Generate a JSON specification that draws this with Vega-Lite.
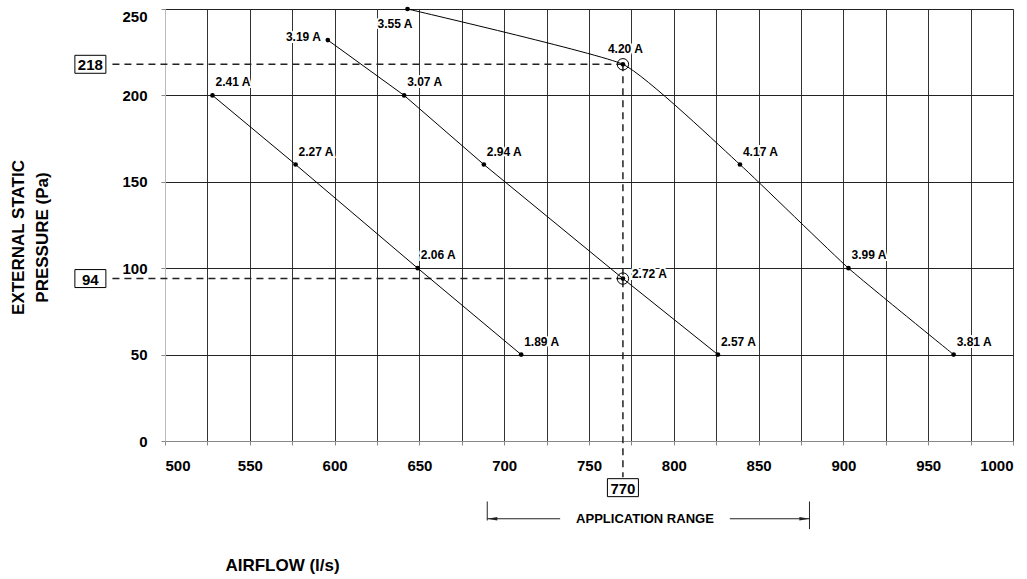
{
  "$schema": "https://vega.github.io/schema/vega-lite/v6.json",
  "width": 848,
  "height": 432,
  "autosize": "none",
  "padding": {"left": 165, "top": 9, "right": 14, "bottom": 138},
  "background": "white",
  "config": {
    "font": "Liberation Sans",
    "view": {"stroke": "#888", "strokeWidth": 1}
  },
  "datasets": {
    "curves": [
      {"series": "A", "x": 528, "y": 200, "label": "2.41 A"},
      {"series": "A", "x": 577, "y": 160, "label": "2.27 A"},
      {"series": "A", "x": 649, "y": 100, "label": "2.06 A"},
      {"series": "A", "x": 710, "y": 50, "label": "1.89 A"},
      {"series": "B", "x": 596, "y": 232, "label": "3.19 A"},
      {"series": "B", "x": 641, "y": 200, "label": "3.07 A"},
      {"series": "B", "x": 688, "y": 160, "label": "2.94 A"},
      {"series": "B", "x": 770, "y": 94, "label": "2.72 A"},
      {"series": "B", "x": 826, "y": 50, "label": "2.57 A"},
      {"series": "C", "x": 643, "y": 250, "label": "3.55 A"},
      {"series": "C", "x": 770, "y": 218, "label": "4.20 A"},
      {"series": "C", "x": 839, "y": 160, "label": "4.17 A"},
      {"series": "C", "x": 903, "y": 100, "label": "3.99 A"},
      {"series": "C", "x": 965, "y": 50, "label": "3.81 A"}
    ],
    "selected": [
      {"x": 770, "y": 218},
      {"x": 770, "y": 94}
    ],
    "refs": [
      {"x": 469, "x2": 770, "y": 218, "y2": 218},
      {"x": 469, "x2": 770, "y": 94, "y2": 94},
      {"x": 770, "x2": 770, "y": 218, "y2": -21}
    ],
    "boxes": [
      {"x": 456, "y": 218, "label": "218"},
      {"x": 456, "y": 94, "label": "94"},
      {"x": 770, "y": -27, "label": "770"}
    ],
    "range": [
      {"x": 690, "x2": 733, "y": -45, "y2": -45},
      {"x": 833, "x2": 880, "y": -45, "y2": -45},
      {"x": 690, "x2": 690, "y": -35, "y2": -46},
      {"x": 880, "x2": 880, "y": -35, "y2": -51}
    ],
    "arrowL": [{"x": 693, "y": -45}],
    "arrowR": [{"x": 877, "y": -45}],
    "rangeText": [{"x": 783, "y": -45, "label": "APPLICATION RANGE"}]
  },
  "encoding": {
    "x": {
      "field": "x",
      "type": "quantitative",
      "scale": {"domain": [500, 1000], "nice": false, "zero": false},
      "axis": {
        "values": [500, 525, 550, 575, 600, 625, 650, 675, 700, 725, 750, 775, 800, 825, 850, 875, 900, 925, 950, 975, 1000],
        "labelExpr": "datum.value % 50 === 0 ? datum.label : ''",
        "format": "d",
        "labelOverlap": false,
        "grid": true,
        "gridColor": "#333",
        "gridOpacity": 1,
        "gridWidth": 1,
        "domainColor": "#888",
        "tickColor": "#888",
        "tickSize": 4,
        "labelFontSize": 15,
        "labelFontWeight": "bold",
        "labelColor": "black",
        "labelPadding": 13,
        "title": "AIRFLOW (l/s)",
        "titleFontSize": 17,
        "titleFontWeight": "bold",
        "titleColor": "black",
        "titleX": 117,
        "titleY": 124,
        "titleAlign": "center",
        "titleBaseline": "middle"
      }
    },
    "y": {
      "field": "y",
      "type": "quantitative",
      "scale": {"domain": [0, 250], "nice": false},
      "axis": {
        "values": [0, 50, 100, 150, 200, 250],
        "format": "d",
        "labelOverlap": false,
        "grid": true,
        "gridColor": "#222",
        "gridOpacity": 1,
        "gridWidth": 1,
        "domainColor": "#bbb",
        "tickColor": "#888",
        "tickSize": 4,
        "labelFontSize": 15,
        "labelFontWeight": "bold",
        "labelColor": "black",
        "labelPadding": 14,
        "labelBaseline": {"condition": {"test": "datum.value == 250", "value": "top"}, "value": "middle"},
        "title": ["EXTERNAL STATIC", "PRESSURE (Pa)"],
        "titleFontSize": 17,
        "titleFontWeight": "bold",
        "titleColor": "black",
        "titleLineHeight": 24,
        "titleAngle": -90,
        "titleX": -147,
        "titleY": 228,
        "titleAlign": "center",
        "titleBaseline": "middle"
      }
    }
  },
  "layer": [
    {
      "data": {"name": "refs"},
      "mark": {"type": "rule", "color": "#222", "strokeWidth": 1.5, "strokeDash": [7, 5]},
      "encoding": {"x2": {"field": "x2"}, "y2": {"field": "y2"}}
    },
    {
      "data": {"name": "range"},
      "mark": {"type": "rule", "color": "#222", "strokeWidth": 1},
      "encoding": {"x2": {"field": "x2"}, "y2": {"field": "y2"}}
    },
    {
      "data": {"name": "arrowL"},
      "mark": {"type": "point", "shape": "M-1,0L1,-0.35L1,0.35Z", "size": 100, "filled": true, "color": "#222", "opacity": 1}
    },
    {
      "data": {"name": "arrowR"},
      "mark": {"type": "point", "shape": "M1,0L-1,-0.35L-1,0.35Z", "size": 100, "filled": true, "color": "#222", "opacity": 1}
    },
    {
      "data": {"name": "rangeText"},
      "mark": {"type": "text", "fontSize": 13, "fontWeight": "bold", "color": "black", "align": "center", "baseline": "middle"},
      "encoding": {"text": {"field": "label"}}
    },
    {
      "data": {"name": "curves"},
      "transform": [{"filter": "datum.series != 'C'"}],
      "mark": {"type": "line", "color": "black", "strokeWidth": 1, "interpolate": "linear"},
      "encoding": {"detail": {"field": "series"}}
    },
    {
      "data": {"name": "curves"},
      "transform": [{"filter": "datum.series == 'C'"}],
      "mark": {"type": "line", "color": "black", "strokeWidth": 1, "interpolate": "cardinal", "tension": 0.6},
      "encoding": {"detail": {"field": "series"}}
    },
    {
      "data": {"name": "curves"},
      "mark": {"type": "circle", "color": "black", "size": 22, "opacity": 1}
    },
    {
      "data": {"name": "selected"},
      "mark": {"type": "point", "shape": "circle", "size": 130, "filled": false, "stroke": "black", "strokeWidth": 1, "opacity": 1}
    },
    {
      "data": {"name": "boxes"},
      "mark": {"type": "point", "shape": "M-1,-0.58H1V0.58H-1Z", "size": 961, "filled": true, "fill": "white", "stroke": "black", "strokeWidth": 1, "opacity": 1}
    },
    {
      "data": {"name": "boxes"},
      "mark": {"type": "text", "fontSize": 15, "fontWeight": "bold", "color": "black", "align": "center", "baseline": "middle", "dy": 1},
      "encoding": {"text": {"field": "label"}}
    },
    {
      "data": {"name": "curves"},
      "transform": [{"filter": {"not": {"field": "label", "oneOf": ["3.19 A", "3.55 A", "4.20 A", "2.72 A"]}}}],
      "mark": {"type": "text", "fontSize": 12, "fontWeight": "bold", "stroke": "white", "strokeWidth": 4, "fill": "white", "align": "left", "baseline": "middle", "dx": 3, "dy": -13},
      "encoding": {"text": {"field": "label"}}
    },
    {
      "data": {"name": "curves"},
      "transform": [{"filter": {"not": {"field": "label", "oneOf": ["3.19 A", "3.55 A", "4.20 A", "2.72 A"]}}}],
      "mark": {"type": "text", "fontSize": 12, "fontWeight": "bold", "color": "black", "align": "left", "baseline": "middle", "dx": 3, "dy": -13},
      "encoding": {"text": {"field": "label"}}
    },
    {
      "data": {"name": "curves"},
      "transform": [{"filter": {"field": "label", "oneOf": ["3.19 A"]}}],
      "mark": {"type": "text", "fontSize": 12, "fontWeight": "bold", "stroke": "white", "strokeWidth": 4, "fill": "white", "align": "right", "baseline": "middle", "dx": -7, "dy": -3},
      "encoding": {"text": {"field": "label"}}
    },
    {
      "data": {"name": "curves"},
      "transform": [{"filter": {"field": "label", "oneOf": ["3.19 A"]}}],
      "mark": {"type": "text", "fontSize": 12, "fontWeight": "bold", "color": "black", "align": "right", "baseline": "middle", "dx": -7, "dy": -3},
      "encoding": {"text": {"field": "label"}}
    },
    {
      "data": {"name": "curves"},
      "transform": [{"filter": {"field": "label", "oneOf": ["3.55 A"]}}],
      "mark": {"type": "text", "fontSize": 12, "fontWeight": "bold", "stroke": "white", "strokeWidth": 4, "fill": "white", "align": "right", "baseline": "middle", "dx": 5, "dy": 15},
      "encoding": {"text": {"field": "label"}}
    },
    {
      "data": {"name": "curves"},
      "transform": [{"filter": {"field": "label", "oneOf": ["3.55 A"]}}],
      "mark": {"type": "text", "fontSize": 12, "fontWeight": "bold", "color": "black", "align": "right", "baseline": "middle", "dx": 5, "dy": 15},
      "encoding": {"text": {"field": "label"}}
    },
    {
      "data": {"name": "curves"},
      "transform": [{"filter": {"field": "label", "oneOf": ["4.20 A"]}}],
      "mark": {"type": "text", "fontSize": 12, "fontWeight": "bold", "stroke": "white", "strokeWidth": 4, "fill": "white", "align": "left", "baseline": "middle", "dx": -15, "dy": -15},
      "encoding": {"text": {"field": "label"}}
    },
    {
      "data": {"name": "curves"},
      "transform": [{"filter": {"field": "label", "oneOf": ["4.20 A"]}}],
      "mark": {"type": "text", "fontSize": 12, "fontWeight": "bold", "color": "black", "align": "left", "baseline": "middle", "dx": -15, "dy": -15},
      "encoding": {"text": {"field": "label"}}
    },
    {
      "data": {"name": "curves"},
      "transform": [{"filter": {"field": "label", "oneOf": ["2.72 A"]}}],
      "mark": {"type": "text", "fontSize": 12, "fontWeight": "bold", "stroke": "white", "strokeWidth": 4, "fill": "white", "align": "left", "baseline": "middle", "dx": 9, "dy": -5},
      "encoding": {"text": {"field": "label"}}
    },
    {
      "data": {"name": "curves"},
      "transform": [{"filter": {"field": "label", "oneOf": ["2.72 A"]}}],
      "mark": {"type": "text", "fontSize": 12, "fontWeight": "bold", "color": "black", "align": "left", "baseline": "middle", "dx": 9, "dy": -5},
      "encoding": {"text": {"field": "label"}}
    }
  ]
}
